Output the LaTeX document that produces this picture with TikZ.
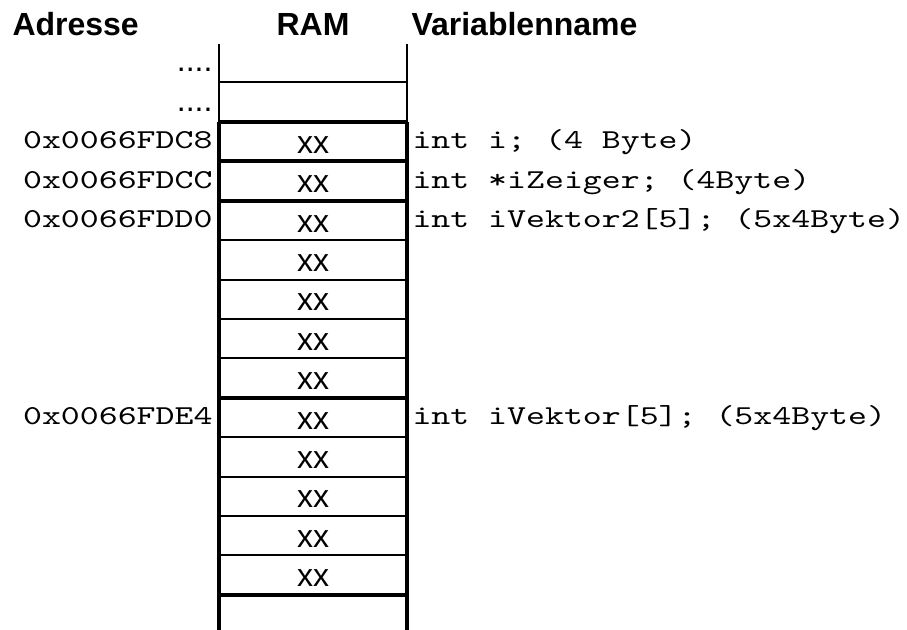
\documentclass[tikz,border=0pt]{standalone}
\usepackage{fontspec}
\setmainfont{Liberation Sans}
\newfontfamily\codefont{lmmono10-regular.otf}[FakeStretch=1.32]

\tikzset{every picture/.style={line width=0.75pt}}
\tikzset{
	kopf/.style={font=\fontsize{24}{28}\selectfont\bfseries, inner sep=0pt, anchor=base},
	zelle/.style={font=\fontsize{24}{28}\selectfont, inner sep=0pt, anchor=base},
	adresse/.style={font=\fontsize{20.5}{24}\codefont, inner sep=0pt, anchor=base east},
	varname/.style={font=\fontsize{20.5}{24}\codefont, inner sep=0pt, anchor=base west},
	duenn/.style={line width=1.5pt},
	dick/.style={line width=3pt}}

\begin{document}
\begin{tikzpicture}[x=0.75pt,y=0.75pt,yscale=-1,xscale=1]
	\useasboundingbox (0,0) rectangle (907,630);

	% Spaltenkoepfe
	\draw (12,36) node [kopf, anchor=base west] (kAdr) {Adresse};
	\draw (313,36) node [kopf] (kRam) {RAM};
	\draw (411,36) node [kopf, anchor=base west] (kVar) {Variablenname};

	%Shape: oberer Bereich (duenn)
	\draw [duenn] (219,44) -- (219,122) (407,44) -- (407,122) (219,82) -- (407,82) ;
	%Shape: Speicherzellen, Seiten
	\draw [dick] (219,122) -- (219,630) (407,122) -- (407,630) ;
	%Straight Lines: Zellgrenzen
	\foreach \k in {3,4,5,6,8,9,10,11}
		\draw [duenn] (219,122+39.4*\k) -- (407,122+39.4*\k) ;
	%Straight Lines: Grenzen zwischen Variablen
	\foreach \k in {0,1,2,7,12}
		\draw [dick] (219,122+39.4*\k) -- (407,122+39.4*\k) ;

	% Zellinhalte
	\foreach \k in {1,...,12}
		\draw (313,122+39.4*\k-8) node [zelle] (z\k) {xx};

	% Text Node
	\draw (213,72) node [zelle, anchor=base east] (pkt1) {....};
	% Text Node
	\draw (213,112) node [zelle, anchor=base east] (pkt2) {....};

	% Adressen
	\draw (213,149) node [adresse] (a1) {0x0066FDC8};
	\draw (213,149+39.4) node [adresse] (a2) {0x0066FDCC};
	\draw (213,149+2*39.4) node [adresse] (a3) {0x0066FDD0};
	\draw (213,149+7*39.4) node [adresse] (a4) {0x0066FDE4};

	% Variablennamen
	\draw (412,149) node [varname] (v1) {int i; (4 Byte)};
	\draw (412,149+39.4) node [varname] (v2) {int *iZeiger; (4Byte)};
	\draw (412,149+2*39.4) node [varname] (v3) {int iVektor2[5]; (5x4Byte)};
	\draw (412,149+7*39.4) node [varname] (v4) {int iVektor[5]; (5x4Byte)};

\end{tikzpicture}
\end{document}
